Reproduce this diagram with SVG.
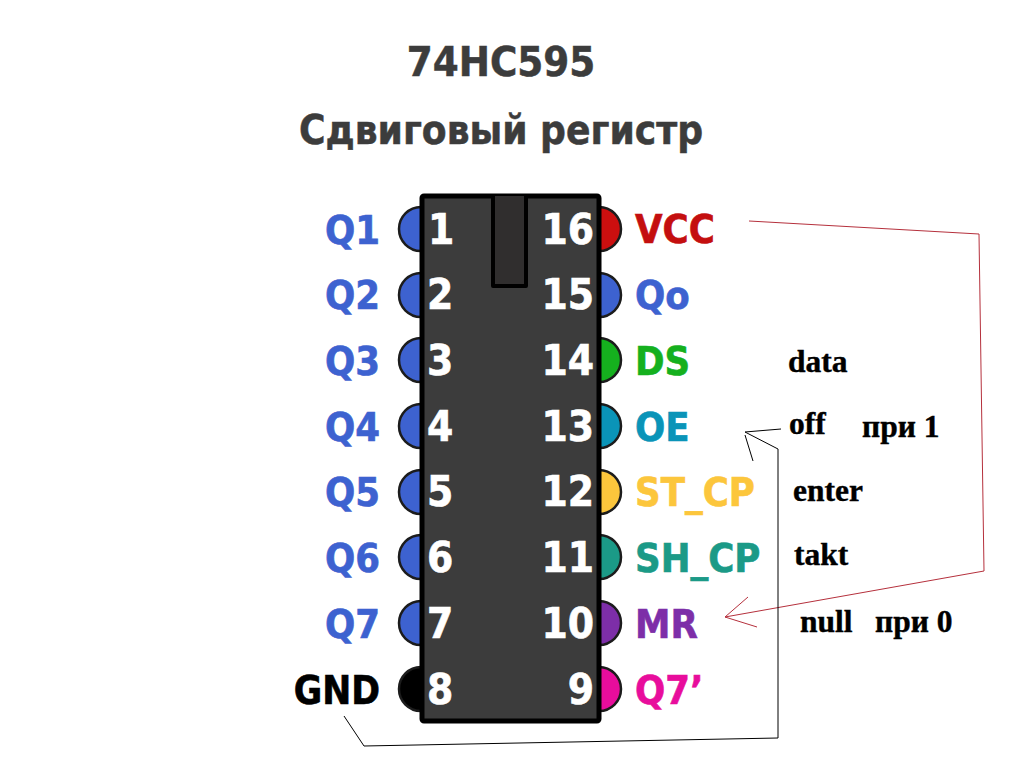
<svg xmlns="http://www.w3.org/2000/svg" width="1024" height="770" viewBox="0 0 1024 770">
<style>
.t{font-family:"DejaVu Sans Condensed","DejaVu Sans",sans-serif;font-weight:700}
.title{font-size:40.2px;fill:#3c3c3c;stroke:#3c3c3c;stroke-width:.5}
.lab{font-size:39.6px;stroke-width:.6}
.num{font-size:42px;fill:#fff;stroke:#fff;stroke-width:.6}
.note{font-family:"Liberation Serif",serif;font-weight:700;font-size:31.5px;fill:#000;stroke:#000;stroke-width:.4}
.pin{stroke:#1c1c1c;stroke-width:2.5}
.blue{fill:#3d62d0;stroke:#3d62d0}
.pin.blue{stroke:#1c1c1c}
.wire{fill:none;stroke-width:1}
</style>
<rect width="1024" height="770" fill="#fff"/>
<g id="title">
<text class="t title" x="501" y="76" text-anchor="middle" font-size="41" style="font-size:41.5px">74HC595</text>
<text class="t title" x="501" y="144" text-anchor="middle">Сдвиговый регистр</text>
</g>
<g id="pins-left">
<circle class="pin blue" cx="421" cy="229" r="22"/>
<circle class="pin blue" cx="421" cy="295" r="22"/>
<circle class="pin blue" cx="421" cy="360" r="22"/>
<circle class="pin blue" cx="421" cy="426" r="22"/>
<circle class="pin blue" cx="421" cy="492" r="22"/>
<circle class="pin blue" cx="421" cy="557" r="22"/>
<circle class="pin blue" cx="421" cy="623" r="22"/>
<circle class="pin" fill="#000" cx="421" cy="689" r="22"/>
</g>
<g id="pins-right">
<circle class="pin" fill="#cc0f0f" cx="599" cy="229" r="22"/>
<circle class="pin blue" cx="599" cy="295" r="22"/>
<circle class="pin" fill="#15b01e" cx="599" cy="360" r="22"/>
<circle class="pin" fill="#0a94b8" cx="599" cy="426" r="22"/>
<circle class="pin" fill="#fcc63c" cx="599" cy="492" r="22"/>
<circle class="pin" fill="#1b9a87" cx="599" cy="557" r="22"/>
<circle class="pin" fill="#7d2ea8" cx="599" cy="623" r="22"/>
<circle class="pin" fill="#e80d9c" cx="599" cy="689" r="22"/>
</g>
<g id="chip">
<rect x="422" y="196" width="177" height="525" rx="2" fill="#3c3c3c" stroke="#000" stroke-width="5"/>
<path d="M493 196V286H526V196" fill="#302e2e" stroke="#000" stroke-width="4" stroke-linejoin="round"/>
</g>
<g id="pin-numbers">
<text class="t num" x="428" y="244">1</text>
<text class="t num" x="427" y="309">2</text>
<text class="t num" x="427" y="375">3</text>
<text class="t num" x="427" y="441">4</text>
<text class="t num" x="427" y="506">5</text>
<text class="t num" x="427" y="572">6</text>
<text class="t num" x="427" y="638">7</text>
<text class="t num" x="427" y="704">8</text>
<g text-anchor="end">
<text class="t num" x="594" y="244">16</text>
<text class="t num" x="594" y="309">15</text>
<text class="t num" x="594" y="375">14</text>
<text class="t num" x="594" y="441">13</text>
<text class="t num" x="594" y="506">12</text>
<text class="t num" x="594" y="572">11</text>
<text class="t num" x="594" y="638">10</text>
<text class="t num" x="594" y="704">9</text>
</g>
</g>
<g id="labels-left" text-anchor="end">
<text class="t lab blue" x="380" y="244">Q1</text>
<text class="t lab blue" x="380" y="309">Q2</text>
<text class="t lab blue" x="380" y="375">Q3</text>
<text class="t lab blue" x="380" y="441">Q4</text>
<text class="t lab blue" x="380" y="506">Q5</text>
<text class="t lab blue" x="380" y="572">Q6</text>
<text class="t lab blue" x="380" y="638">Q7</text>
<text class="t lab" x="380" y="704" fill="#000" stroke="#000" style="font-size:38.5px">GND</text>
</g>
<g id="labels-right">
<text class="t lab" x="635" y="243" fill="#c40f0f" stroke="#c40f0f">VCC</text>
<text class="t lab blue" x="635" y="309">Qo</text>
<text class="t lab" x="635" y="375" fill="#15b01e" stroke="#15b01e">DS</text>
<text class="t lab" x="635" y="441" fill="#0a94b8" stroke="#0a94b8">OE</text>
<text class="t lab" x="635" y="506" fill="#fcc63c" stroke="#fcc63c">ST_CP</text>
<text class="t lab" x="635" y="572" fill="#1b9a87" stroke="#1b9a87">SH_CP</text>
<text class="t lab" x="635" y="638" fill="#7d2ea8" stroke="#7d2ea8">MR</text>
<text class="t lab" x="635" y="704" fill="#e80d9c" stroke="#e80d9c">Q7’</text>
</g>
<g id="notes">
<text class="note" x="788" y="372">data</text>
<text class="note" x="789" y="434">off</text>
<text class="note" x="862" y="437">при 1</text>
<text class="note" x="793" y="501">enter</text>
<text class="note" x="794" y="565">takt</text>
<text class="note" x="800" y="632">null</text>
<text class="note" x="875" y="632">при 0</text>
</g>
<g id="connectors">
<path class="wire" stroke="#b5303c" d="M749 221L979 234L984 571L725 617L748 597M725 617L757 627"/>
<path class="wire" stroke="#000" d="M781 429L745 432L778 449V738L364 746L344 716M745 435L753 461"/>
</g>
</svg>
